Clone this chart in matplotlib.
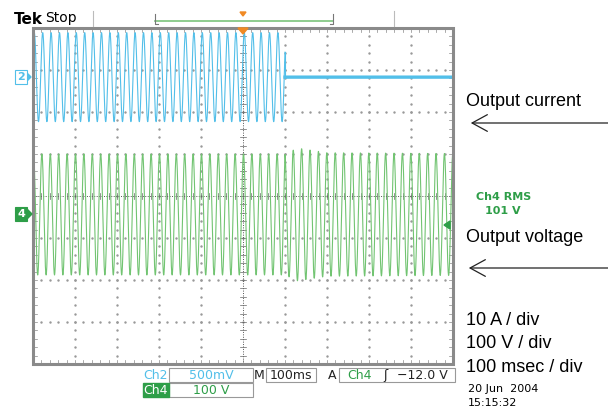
import numpy as np
import matplotlib.pyplot as plt
from matplotlib.patches import Rectangle, Polygon

# scope settings (units: divisions, 100 ms/div)
freq_hz = 50
trip_ms = 600
ms_per_div = 100
current_offset_div = 2.83
current_peak_div = 1.06
voltage_offset_div = -0.44
# voltage peak envelope (div) around the trip
env_t_ms = [0, 600, 630, 700, 1000]
env_peak_div = [1.44, 1.44, 1.58, 1.47, 1.45]

cyan = '#52bfe9'
green = '#72c472'
tek_green = '#2e9e48'

fig = plt.figure(figsize=(6.08, 4.11), dpi=100)
ax = fig.add_axes([33/608, (411-364)/411, 420/608, 336/411])
ax.set_xlim(0, 10)
ax.set_ylim(-4, 4)
ax.axis('off')

# graticule
dots = np.arange(0, 10.01, 0.2)
vdots = np.arange(-4, 4.01, 0.2)
for gx in range(1, 10):
    if gx == 5:
        continue
    ax.plot(np.full_like(vdots, gx), vdots, ls='none', marker='s', ms=0.7, color='#999', zorder=1)
for gy in range(-3, 4):
    if gy == 0:
        continue
    ax.plot(dots, np.full_like(dots, gy), ls='none', marker='s', ms=0.7, color='#999', zorder=1)
ax.plot([0, 10], [0, 0], color='#555', lw=0.7, ls=(0, (1, 1.5)), zorder=1)
ax.plot([5, 5], [-4, 4], color='#555', lw=0.7, ls=(0, (1, 1.5)), zorder=1)
for x in dots:
    ax.plot([x, x], [-0.08, 0.08], color='#666', lw=0.5, zorder=1)
    ax.plot([x, x], [-4, -3.9], color='#888', lw=0.5, zorder=1)
    ax.plot([x, x], [4, 3.9], color='#888', lw=0.5, zorder=1)
for y in vdots:
    ax.plot([4.92, 5.08], [y, y], color='#666', lw=0.5, zorder=1)
    ax.plot([0, 0.1], [y, y], color='#888', lw=0.5, zorder=1)
    ax.plot([10, 9.9], [y, y], color='#888', lw=0.5, zorder=1)
ax.add_patch(Rectangle((0, -4), 10, 8, fill=False, ec='#8a8a8a', lw=2.2, zorder=5, clip_on=False))

# traces
t_ms = np.linspace(0, 1000, 20000)
x_div = t_ms / ms_per_div
w = 2 * np.pi * freq_hz / 1000
on = t_ms < trip_ms
i_trace = current_offset_div + current_peak_div * np.sin(w * t_ms + 0.6)
ax.plot(x_div[on], i_trace[on], color=cyan, lw=0.8, zorder=3)
ax.plot([x_div[on][-1], x_div[on][-1]], [i_trace[on][-1], current_offset_div], color=cyan, lw=0.8, zorder=3)
ax.plot(x_div[~on], np.full((~on).sum(), current_offset_div), color=cyan, lw=2.4, zorder=3)
env = np.interp(t_ms, env_t_ms, env_peak_div)
phase = np.where(on, 0.0, 0.5)
v_trace = voltage_offset_div + env * np.sin(w * t_ms + 1.2 + phase)
ax.plot(x_div, v_trace, color=green, lw=0.8, zorder=3)

# overlay in pixel coordinates for screen annotations
ov = fig.add_axes([0, 0, 1, 1])
ov.set_xlim(0, 608)
ov.set_ylim(411, 0)
ov.axis('off')

ov.text(14, 19, 'Tek', fontsize=11, fontweight='bold', va='center', ha='left')
ov.text(45, 18, 'Stop', fontsize=10, va='center', ha='left')
ov.plot([93, 93], [11, 26], color='#bbb', lw=0.8)
ov.plot([394, 394], [11, 26], color='#bbb', lw=0.8)
ov.plot([155, 333], [21, 21], color='#7cc47c', lw=1.2)
ov.plot([155, 155, 158], [14, 24, 24], color='#777', lw=0.8)
ov.plot([333, 333, 330], [14, 24, 24], color='#777', lw=0.8)
ov.add_patch(Polygon([[240, 12], [246, 12], [243, 16]], color='#f08a24'))
ov.add_patch(Polygon([[238, 28], [248, 28], [243, 34]], color='#f08a24', zorder=6))

# channel markers
ov.text(21, 77, '2', fontsize=8, fontweight='bold', color=cyan, ha='center', va='center',
        bbox=dict(boxstyle='square,pad=0.15', fc='white', ec=cyan, lw=0.8))
ov.add_patch(Polygon([[27, 73], [31, 77], [27, 81]], color=cyan))
ov.text(21, 214, '4', fontsize=8, fontweight='bold', color='white', ha='center', va='center',
        bbox=dict(boxstyle='square,pad=0.15', fc=tek_green, ec=tek_green, lw=0.8))
ov.add_patch(Polygon([[27, 209], [32, 214], [27, 219]], color=tek_green))
ov.add_patch(Polygon([[450, 221], [444, 225], [450, 229]], color=tek_green, zorder=6))

# right side measurement + labels
ov.text(504, 197, 'Ch4 RMS', fontsize=8, fontweight='bold', color=tek_green, ha='center', va='center')
ov.text(503, 211, '101 V', fontsize=8, fontweight='bold', color=tek_green, ha='center', va='center')
ov.text(466, 101, 'Output current', fontsize=13, family='Liberation Sans', va='center')
ov.text(466, 237, 'Output voltage', fontsize=13, family='Liberation Sans', va='center')
arrow = dict(arrowstyle='->,head_length=1.1,head_width=0.6', lw=0.9, color='#222')
ov.annotate('', xy=(468, 123), xytext=(612, 123), arrowprops=arrow)
ov.annotate('', xy=(466, 268), xytext=(612, 268), arrowprops=arrow)
ov.text(466, 320, '10 A / div', fontsize=13, family='Liberation Sans', va='center')
ov.text(466, 343, '100 V / div', fontsize=13, family='Liberation Sans', va='center')
ov.text(466, 367, '100 msec / div', fontsize=13, family='Liberation Sans', va='center')
ov.text(468, 389, '20 Jun  2004', fontsize=8, va='center')
ov.text(468, 403, '15:15:32', fontsize=8, va='center')

# bottom status line
for x0, x1, y0, y1 in [(169, 253, 368, 382), (266, 316, 368, 382), (339, 455, 368, 382), (169, 253, 383, 397)]:
    ov.add_patch(Rectangle((x0, y0), x1 - x0, y1 - y0, fill=False, ec='#999', lw=0.8))
ov.add_patch(Rectangle((143, 383), 26, 14, color=tek_green))
ov.text(156, 375, 'Ch2', fontsize=9, color=cyan, ha='center', va='center')
ov.text(211, 375, '500mV', fontsize=9, color=cyan, ha='center', va='center')
ov.text(259, 375, 'M', fontsize=9, color='#222', ha='center', va='center')
ov.text(291, 375, '100ms', fontsize=9, color='#222', ha='center', va='center')
ov.text(332, 375, 'A', fontsize=9, color='#222', ha='center', va='center')
ov.text(360, 375, 'Ch4', fontsize=9, color=tek_green, ha='center', va='center')
ov.text(385, 375, '\u0283', fontsize=9, color='#222', ha='center', va='center')
ov.text(422, 375, '\u221212.0 V', fontsize=9, color='#222', ha='center', va='center')
ov.text(156, 390, 'Ch4', fontsize=9, color='white', ha='center', va='center')
ov.text(211, 390, '100 V', fontsize=9, color=tek_green, ha='center', va='center')

fig.savefig('out.png', dpi=100)
